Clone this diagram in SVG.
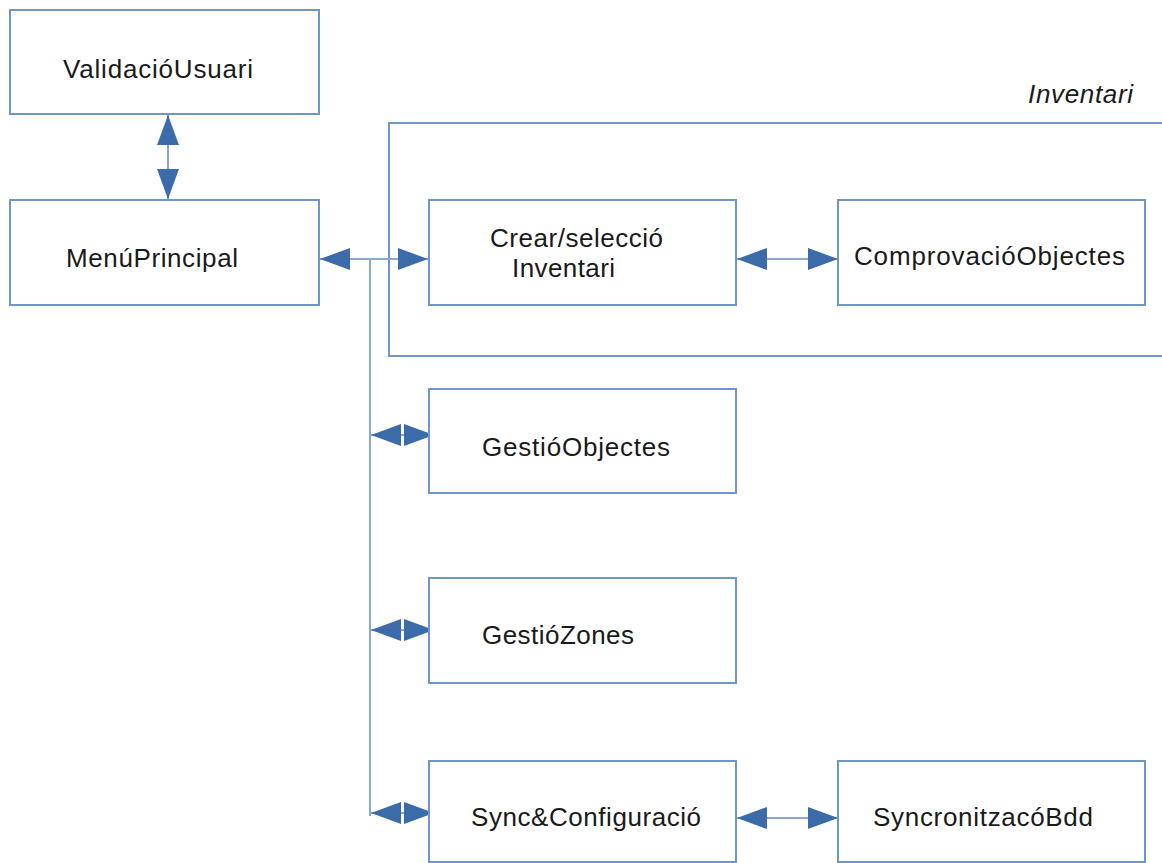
<svg xmlns="http://www.w3.org/2000/svg" width="1162" height="863" viewBox="0 0 1162 863">
<style>
.box{fill:#ffffff;stroke:#6f96c8;stroke-width:2}
.frame{fill:none;stroke:#6f96c8;stroke-width:2}
.con{fill:none;stroke:#86a8d2;stroke-width:2}
.t{font-family:"Liberation Sans",Arial,sans-serif;font-size:26px;fill:#1a1a1a}
.ti{font-family:"Liberation Sans",Arial,sans-serif;font-size:26px;font-style:italic;fill:#1a1a1a}
</style>
<defs>
<marker id="ah" markerUnits="userSpaceOnUse" markerWidth="30" markerHeight="22" refX="30" refY="11" orient="auto-start-reverse">
<path d="M0,0 L30,11 L0,22 Z" fill="#3b6ba9"/>
</marker>
</defs>
<rect width="1162" height="863" fill="#ffffff"/>
<g id="inventari-frame">
<rect class="frame" x="389" y="123" width="820" height="233"/>
<text class="ti" x="1028" y="103" textLength="105" lengthAdjust="spacing">Inventari</text>
</g>
<g id="connectors">
<line class="con" x1="168" y1="115" x2="168" y2="199" marker-start="url(#ah)" marker-end="url(#ah)"/>
<line class="con" x1="320" y1="259" x2="428" y2="259" marker-start="url(#ah)" marker-end="url(#ah)"/>
<line class="con" x1="370" y1="259" x2="370" y2="816"/>
<line class="con" x1="371" y1="435" x2="434" y2="435" marker-start="url(#ah)" marker-end="url(#ah)"/>
<line class="con" x1="371" y1="630" x2="434" y2="630" marker-start="url(#ah)" marker-end="url(#ah)"/>
<line class="con" x1="371" y1="813" x2="434" y2="813" marker-start="url(#ah)" marker-end="url(#ah)"/>
<line class="con" x1="737" y1="259" x2="838" y2="259" marker-start="url(#ah)" marker-end="url(#ah)"/>
<line class="con" x1="737" y1="818" x2="838" y2="818" marker-start="url(#ah)" marker-end="url(#ah)"/>
</g>
<g id="validacio-usuari">
<rect class="box" x="10" y="10" width="309" height="104"/>
<text class="t" x="63" y="78" textLength="190" lengthAdjust="spacing">ValidacióUsuari</text>
</g>
<g id="menu-principal">
<rect class="box" x="10" y="200" width="309" height="105"/>
<text class="t" x="66" y="267" textLength="172" lengthAdjust="spacing">MenúPrincipal</text>
</g>
<g id="crear-seleccio-inventari">
<rect class="box" x="429" y="200" width="307" height="105"/>
<text class="t" x="490" y="247" textLength="173" lengthAdjust="spacing">Crear/selecció</text>
<text class="t" x="512" y="277" textLength="103" lengthAdjust="spacing">Inventari</text>
</g>
<g id="comprovacio-objectes">
<rect class="box" x="838" y="200" width="307" height="105"/>
<text class="t" x="854" y="265" textLength="271" lengthAdjust="spacing">ComprovacióObjectes</text>
</g>
<g id="gestio-objectes">
<rect class="box" x="429" y="389" width="307" height="104"/>
<text class="t" x="482" y="456" textLength="188" lengthAdjust="spacing">GestióObjectes</text>
</g>
<g id="gestio-zones">
<rect class="box" x="429" y="578" width="307" height="105"/>
<text class="t" x="482" y="644" textLength="152" lengthAdjust="spacing">GestióZones</text>
</g>
<g id="sync-configuracio">
<rect class="box" x="429" y="761" width="307" height="101"/>
<text class="t" x="471" y="826" textLength="230" lengthAdjust="spacing">Sync&amp;Configuració</text>
</g>
<g id="syncronitzaco-bdd">
<rect class="box" x="838" y="761" width="307" height="101"/>
<text class="t" x="873" y="826" textLength="220" lengthAdjust="spacing">SyncronitzacóBdd</text>
</g>
</svg>
